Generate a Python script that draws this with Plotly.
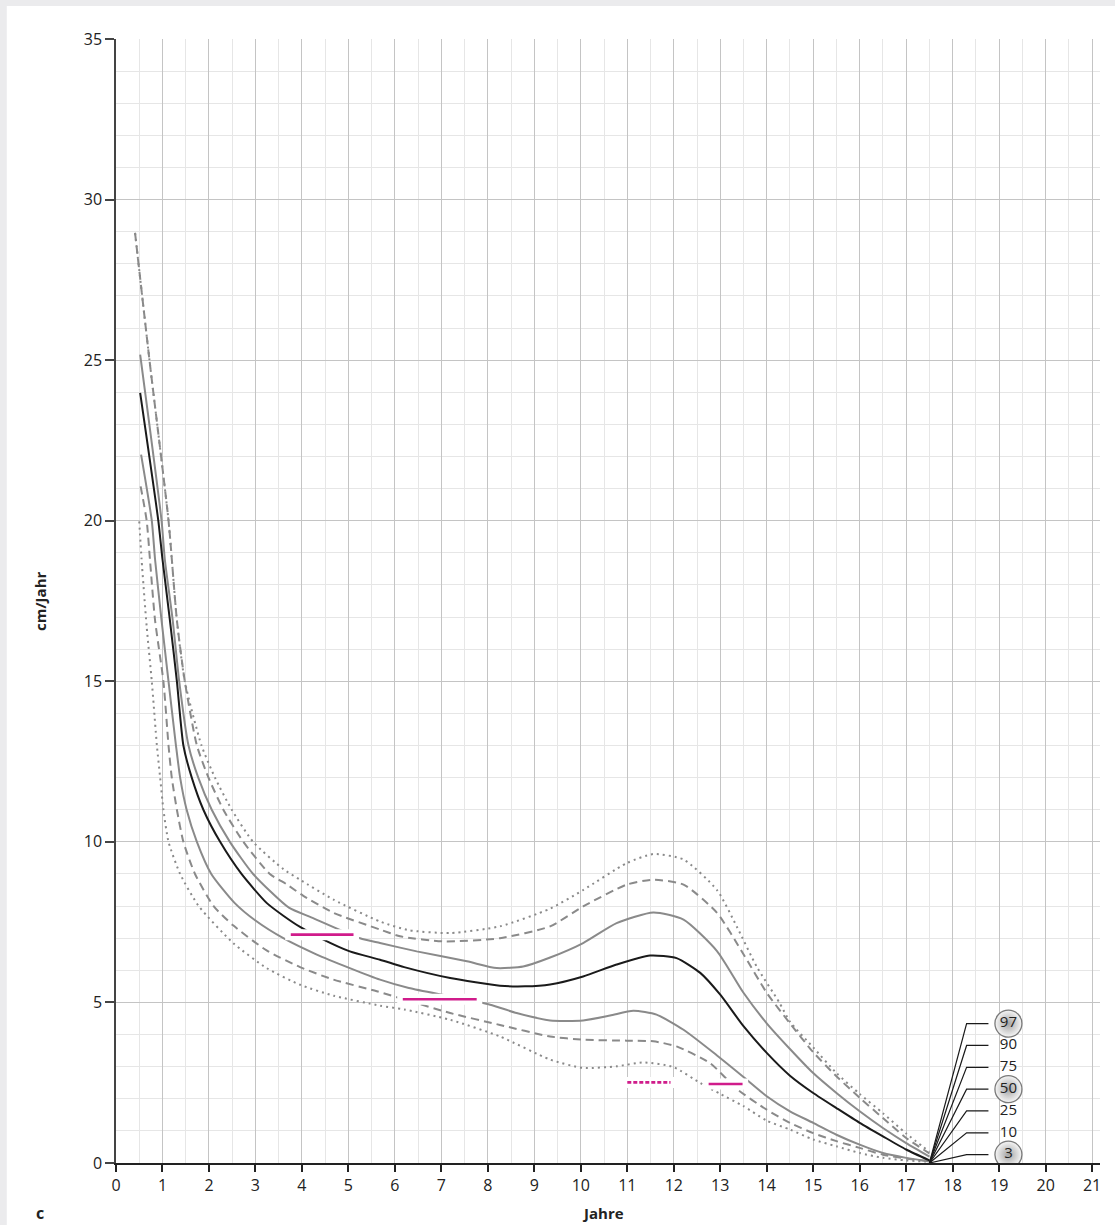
import plotly.graph_objects as go

# ---------------- data ----------------
p97_x = [0.41, 0.72, 1.13, 1.31, 1.48, 1.84, 2.13, 2.49, 2.95, 3.6, 3.96, 4.68, 5.68, 6.3, 7.19, 8.26,
         9.34, 10.05, 10.99, 11.56, 12.21, 12.93, 13.36, 13.79, 14.27, 14.5, 15.0, 15.5, 16.0, 16.5, 17.0, 17.5]
p97_y = [28.96, 25.0, 20.0, 16.9, 15.0, 13.0, 12.0, 11.0, 10.0, 9.15, 8.82, 8.2, 7.52, 7.25, 7.16, 7.37,
         7.92, 8.5, 9.34, 9.62, 9.45, 8.5, 7.35, 6.1, 5.0, 4.4, 3.6, 2.8, 2.15, 1.55, 0.92, 0.35]

p90_x = [0.41, 0.72, 1.13, 1.31, 1.48, 1.74, 1.99, 2.31, 2.74, 3.31, 3.67, 4.03, 4.68, 5.68, 6.11, 7.04,
         8.26, 9.34, 10.05, 10.99, 11.56, 12.21, 12.93, 13.5, 14.0, 14.5, 15.0, 15.5, 16.0, 16.5, 17.0, 17.5]
p90_y = [28.96, 25.0, 20.0, 16.9, 15.0, 13.0, 12.0, 11.0, 10.0, 9.0, 8.68, 8.32, 7.79, 7.27, 7.06, 6.9,
         7.0, 7.37, 7.99, 8.67, 8.82, 8.67, 7.79, 6.5, 5.3, 4.35, 3.45, 2.7, 2.03, 1.4, 0.78, 0.3]

p75_x = [0.52, 0.98, 1.05, 1.22, 1.36, 1.56, 1.77, 2.06, 2.45, 2.95, 3.72, 4.2, 5.25, 5.68, 6.47, 7.55,
         8.19, 8.76, 9.34, 10.05, 10.77, 11.56, 12.21, 12.93, 13.5, 14.0, 14.5, 15.0, 15.5, 16.0, 16.5, 17.0, 17.5]
p75_y = [25.17, 20.0, 18.8, 16.9, 15.0, 13.0, 12.0, 11.0, 10.0, 9.0, 7.95, 7.65, 7.0, 6.85, 6.59, 6.28,
         6.07, 6.12, 6.4, 6.85, 7.47, 7.8, 7.58, 6.6, 5.3, 4.35, 3.55, 2.8, 2.18, 1.61, 1.09, 0.62, 0.2]

p50_x = [0.52, 0.91, 1.0, 1.16, 1.31, 1.45, 1.63, 1.88, 2.24, 2.7, 3.24, 3.6, 3.96, 4.43, 5.03, 5.68,
         6.2, 7.19, 8.26, 8.8, 9.34, 10.05, 10.77, 11.49, 12.06, 12.57, 13.0, 13.5, 14.0, 14.5, 15.0,
         15.5, 16.0, 16.5, 17.0, 17.5]
p50_y = [23.98, 20.0, 18.8, 16.9, 15.0, 13.0, 12.0, 11.0, 10.0, 9.0, 8.1, 7.7, 7.35, 6.98, 6.59, 6.33,
         6.1, 5.76, 5.52, 5.5, 5.56, 5.81, 6.18, 6.46, 6.38, 5.92, 5.24, 4.26, 3.43, 2.72, 2.18,
         1.71, 1.25, 0.83, 0.42, 0.08]

p25_x = [0.54, 0.77, 0.84, 0.98, 1.13, 1.29, 1.38, 1.52, 1.74, 2.05, 2.55, 3.0, 3.6, 4.32, 5.03, 5.68,
         6.3, 7.19, 8.05, 8.62, 9.34, 10.05, 10.63, 11.13, 11.63, 12.21, 12.93, 13.5, 14.0, 14.5, 15.0,
         15.5, 16.0, 16.5, 17.0, 17.5]
p25_y = [22.06, 20.0, 18.8, 16.9, 15.0, 13.0, 12.0, 11.0, 10.0, 9.0, 8.1, 7.55, 7.0, 6.49, 6.07, 5.71,
         5.45, 5.19, 4.93, 4.67, 4.44, 4.44, 4.59, 4.74, 4.62, 4.15, 3.35, 2.68, 2.08, 1.61, 1.25,
         0.88, 0.57, 0.31, 0.16, 0.05]

p10_x = [0.53, 0.66, 0.73, 0.84, 1.02, 1.13, 1.2, 1.31, 1.45, 1.7, 2.1, 2.52, 3.24, 3.96, 4.68, 5.61,
         6.3, 7.19, 8.26, 9.34, 10.05, 10.99, 11.56, 12.06, 12.78, 13.36, 14.0, 14.5, 15.0, 15.5, 16.0,
         16.5, 17.0, 17.5]
p10_y = [21.07, 20.0, 18.8, 16.9, 15.0, 13.0, 12.0, 11.0, 10.0, 9.0, 8.0, 7.4, 6.62, 6.1, 5.71, 5.35,
         5.05, 4.67, 4.3, 3.94, 3.84, 3.81, 3.79, 3.63, 3.11, 2.3, 1.66, 1.25, 0.93, 0.68, 0.47,
         0.26, 0.14, 0.05]

p3_x = [0.5, 0.55, 0.66, 0.77, 0.88, 0.95, 1.02, 1.13, 1.38, 1.78, 2.52, 3.24, 3.96, 4.68, 5.68, 6.2,
        7.19, 8.26, 9.34, 10.05, 10.77, 11.35, 11.99, 12.57, 13.0, 13.5, 14.0, 14.5, 15.0, 15.5, 16.0,
        16.5, 17.0, 17.5]
p3_y = [19.98, 18.8, 16.7, 15.0, 13.0, 12.0, 11.0, 10.0, 9.0, 8.0, 6.85, 6.07, 5.55, 5.21, 4.9, 4.78,
        4.46, 3.94, 3.22, 2.96, 3.01, 3.13, 2.99, 2.49, 2.15, 1.77, 1.32, 1.04, 0.73, 0.52, 0.31,
        0.16, 0.08, 0.04]

# pink reference segments
ref_x0 = [3.76, 6.17, 11.0, 12.75]
ref_x1 = [5.11, 7.76, 11.93, 13.48]
ref_y = [7.11, 5.1, 2.51, 2.46]
ref_dashed = [False, False, True, False]

# percentile legend labels (top to bottom)
legend_labels = ["97", "90", "75", "50", "25", "10", "3"]
legend_circled = ["97", "50", "3"]
converge_x, converge_y = 17.5, 0.0

x_ticks = list(range(0, 22))
y_ticks = [0, 5, 10, 15, 20, 25, 30, 35]

# ---------------- styles ----------------
GRAY = "#8a8a8a"
BLACK = "#1a1a1a"
PINK = "#d01c8b"
FONT = "Open Sans"

curves = [
    (p3_x, p3_y, GRAY, "2px,4px", 2.0),
    (p10_x, p10_y, GRAY, "8px,5px", 2.0),
    (p25_x, p25_y, GRAY, "solid", 2.0),
    (p75_x, p75_y, GRAY, "solid", 2.0),
    (p90_x, p90_y, GRAY, "8px,5px", 2.0),
    (p97_x, p97_y, GRAY, "2px,4px", 2.0),
    (p50_x, p50_y, BLACK, "solid", 2.0),
]

fig = go.Figure()
for xs, ys, col, dash, w in curves:
    fig.add_trace(go.Scatter(x=xs, y=ys, mode="lines",
                             line=dict(color=col, width=w, dash=dash, shape="spline", smoothing=0.6),
                             hoverinfo="skip", showlegend=False))

# white masks behind the pink segments
for x0, x1, y in zip(ref_x0, ref_x1, ref_y):
    fig.add_trace(go.Scatter(x=[x0 - 0.12, x1 + 0.12], y=[y, y], mode="lines",
                             line=dict(color="white", width=11), hoverinfo="skip", showlegend=False))
for x0, x1, y, d in zip(ref_x0, ref_x1, ref_y, ref_dashed):
    fig.add_trace(go.Scatter(x=[x0, x1], y=[y, y], mode="lines",
                             line=dict(color=PINK, width=2.6, dash="4px,2px" if d else "solid"),
                             hoverinfo="skip", showlegend=False))

# fan legend
n = len(legend_labels)
lab_y = [0.26 + 0.68 * (n - 1 - i) for i in range(n)]
for lab, yl in zip(legend_labels, lab_y):
    fig.add_trace(go.Scatter(x=[converge_x, 18.3, 18.77], y=[converge_y, yl, yl], mode="lines",
                             line=dict(color=BLACK, width=1.2), hoverinfo="skip", showlegend=False))
circ_y = [yl for lab, yl in zip(legend_labels, lab_y) if lab in legend_circled]
fig.add_trace(go.Scatter(x=[19.2] * len(circ_y), y=circ_y, mode="markers",
                         marker=dict(size=27, color="#f6f6f6",
                                     gradient=dict(type="radial", color="#a4a4a4"),
                                     line=dict(color="#7a7a7a", width=1.3)),
                         hoverinfo="skip", showlegend=False))
fig.add_trace(go.Scatter(x=[19.2] * n, y=lab_y, mode="text", text=legend_labels,
                         textfont=dict(family=FONT, size=15, color="#222"),
                         hoverinfo="skip", showlegend=False))

# white panel on gray page
fig.add_shape(type="rect", xref="paper", yref="paper", layer="below",
              x0=-0.111, x1=1.02, y0=-0.06, y1=1.0294,
              fillcolor="white", line=dict(width=0))

fig.update_layout(
    width=1115, height=1225,
    margin=dict(l=116, r=15, t=39, b=62),
    paper_bgcolor="#ebebed", plot_bgcolor="white",
    font=dict(family=FONT, size=16, color="#222"),
    xaxis=dict(range=[0, 21.17], tickvals=x_ticks, ticktext=[str(v) for v in x_ticks],
               showgrid=True, gridcolor="#c4c4c4", gridwidth=1.2,
               minor=dict(dtick=0.5, showgrid=True, gridcolor="#e6e6e6", gridwidth=1),
               showline=True, linecolor="#222", linewidth=1.8,
               ticks="outside", ticklen=7, tickwidth=1.5, tickcolor="#222",
               zeroline=False, tickfont=dict(size=16)),
    yaxis=dict(range=[0, 35], tickvals=y_ticks, ticktext=[str(v) for v in y_ticks],
               showgrid=True, gridcolor="#c4c4c4", gridwidth=1.2,
               minor=dict(dtick=1, showgrid=True, gridcolor="#e6e6e6", gridwidth=1),
               showline=True, linecolor="#444", linewidth=1.5,
               ticks="outside", ticklen=9, tickwidth=1.5, tickcolor="#444",
               zeroline=False, tickfont=dict(size=16)),
    annotations=[
        dict(text="<b>cm/Jahr</b>", xref="paper", yref="paper", x=-0.0772, y=0.5,
             xanchor="center", yanchor="middle",
             textangle=-90, showarrow=False, font=dict(size=15, family=FONT)),
        dict(text="<b>Jahre</b>", xref="paper", yref="paper", x=0.495, y=-0.0445,
             xanchor="center", yanchor="middle",
             showarrow=False, font=dict(size=15, family=FONT)),
        dict(text="<b>c</b>", xref="paper", yref="paper", x=-0.0772, y=-0.0445,
             xanchor="center", yanchor="middle",
             showarrow=False, font=dict(size=16, family=FONT)),
    ],
)

fig.write_html(
    "out.html",
    config={"displayModeBar": False},
    post_script="document.body.style.margin='0';document.body.style.padding='0';"
                "document.body.style.overflow='hidden';document.body.style.background='#ebebed';",
)
